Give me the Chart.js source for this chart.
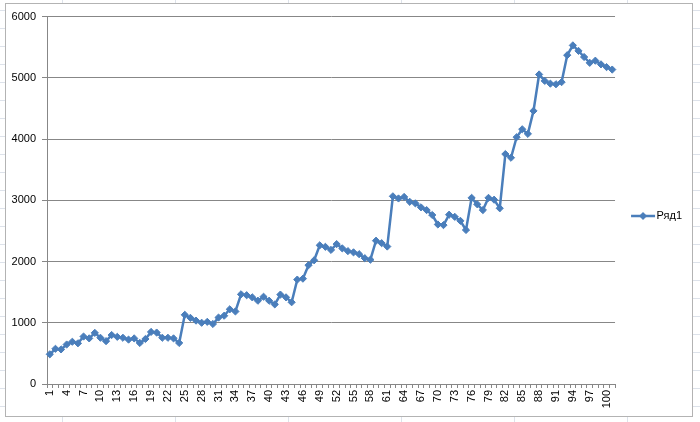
<!DOCTYPE html>
<html>
<head>
<meta charset="utf-8">
<script src="https://cdn.jsdelivr.net/npm/chart.js@4.4.1/dist/chart.umd.min.js"></script>
<style>
html,body{margin:0;padding:0;width:700px;height:422px;overflow:hidden;}
body{
  background-color:#fff;
  background-image:linear-gradient(to right,#dde2ea 1px,transparent 1px),linear-gradient(to bottom,#dde2ea 1px,transparent 1px);
  background-size:113px 18px;
  background-position:62px 10px;
  position:relative;
}
#wrap{position:absolute;left:5px;top:3px;width:688px;height:414px;box-sizing:border-box;border:1px solid #b3b3b3;background:#fff;}
canvas{display:block;}
</style>
</head>
<body>
<div id="wrap"><canvas id="c" width="686" height="412"></canvas></div>
<script>
// ---- data ----
const categories = ['1','2','3','4','5','6','7','8','9','10','11','12','13','14','15','16','17','18','19','20',
  '21','22','23','24','25','26','27','28','29','30','31','32','33','34','35','36','37','38','39','40',
  '41','42','43','44','45','46','47','48','49','50','51','52','53','54','55','56','57','58','59','60',
  '61','62','63','64','65','66','67','68','69','70','71','72','73','74','75','76','77','78','79','80',
  '81','82','83','84','85','86','87','88','89','90','91','92','93','94','95','96','97','98','99','100','101'];

const seriesName = 'Ряд1';
const seriesValues = [
  485, 575, 565, 645, 690, 665, 775, 745, 835, 755,
  700, 800, 770, 755, 725, 745, 670, 735, 850, 840,
  755, 755, 745, 670, 1130, 1080, 1035, 1000, 1015, 980,
  1085, 1115, 1220, 1185, 1465, 1450, 1415, 1360, 1425, 1360,
  1300, 1460, 1415, 1335, 1705, 1720, 1940, 2020, 2265, 2240,
  2190, 2285, 2215, 2170, 2150, 2120, 2055, 2030, 2340, 2300,
  2245, 3065, 3030, 3055, 2975, 2950, 2885, 2840, 2760, 2605,
  2595, 2765, 2730, 2665, 2515, 3040, 2935, 2840, 3040, 3010,
  2870, 3755, 3695, 4030, 4160, 4085, 4460, 5055, 4950, 4905,
  4895, 4930, 5370, 5530, 5440, 5340, 5245, 5280, 5220, 5175, 5135
];

const xTickLabels = ['1','4','7','10','13','16','19','22','25','28','31','34','37','40','43','46','49',
  '52','55','58','61','64','67','70','73','76','79','82','85','88','91','94','97','100'];
const yTickValues = [0, 1000, 2000, 3000, 4000, 5000, 6000];

// ---- styles ----
const BLUE = '#4A7EBB';
const GRID = '#878787';
const FONT = {family: "'Liberation Sans', Arial, sans-serif", size: 11};

// legend icon: line with a diamond marker
const icon = document.createElement('canvas');
icon.width = 26; icon.height = 10;
(function(){
  const g = icon.getContext('2d');
  g.strokeStyle = BLUE; g.lineWidth = 2.5;
  g.beginPath(); g.moveTo(1,5); g.lineTo(25,5); g.stroke();
  g.fillStyle = BLUE;
  g.beginPath(); g.moveTo(13,1); g.lineTo(17,5); g.lineTo(13,9); g.lineTo(9,5); g.closePath(); g.fill();
})();

new Chart(document.getElementById('c'), {
  type: 'line',
  data: {
    labels: categories,
    datasets: [{
      label: seriesName,
      data: seriesValues,
      borderColor: BLUE,
      backgroundColor: BLUE,
      borderWidth: 2.5,
      pointStyle: 'rectRot',
      pointRadius: 3.6,
      pointBorderWidth: 1,
      pointBackgroundColor: BLUE,
      pointBorderColor: BLUE,
      tension: 0,
      fill: false
    }]
  },
  options: {
    responsive: false,
    animation: false,
    layout: {padding: {left: 0, right: 0, top: 12, bottom: 0}},
    plugins: {
      tooltip: {enabled: false},
      legend: {
        display: true,
        position: 'right',
        maxWidth: 77,
        labels: {
          usePointStyle: true,
          pointStyle: icon,
          pointStyleWidth: 16,
          boxHeight: 10,
          padding: 20,
          color: '#000',
          font: FONT
        }
      }
    },
    scales: {
      x: {
        type: 'category',
        offset: true,
        grid: {display: true, drawOnChartArea: false, drawTicks: true, tickLength: 4, color: GRID, offset: true},
        border: {display: true, color: GRID, width: 1},
        ticks: {
          autoSkip: false,
          minRotation: 90,
          maxRotation: 90,
          padding: 2,
          color: '#000',
          font: FONT,
          callback: function(value, index) {
            const l = this.getLabelForValue(value);
            return xTickLabels.includes(l) ? l : '';
          }
        },
        afterFit: s => { s.height = 32; }
      },
      y: {
        min: 0,
        max: 6000,
        afterBuildTicks: s => { s.ticks = yTickValues.map(v => ({value: v})); },
        grid: {color: GRID, lineWidth: 1, drawTicks: true, tickLength: 5},
        border: {display: true, color: GRID, width: 1},
        ticks: {color: '#000', font: FONT, padding: 6, callback: v => String(v)},
        afterFit: s => { s.width = 41; }
      }
    }
  }
});
</script>
</body>
</html>
